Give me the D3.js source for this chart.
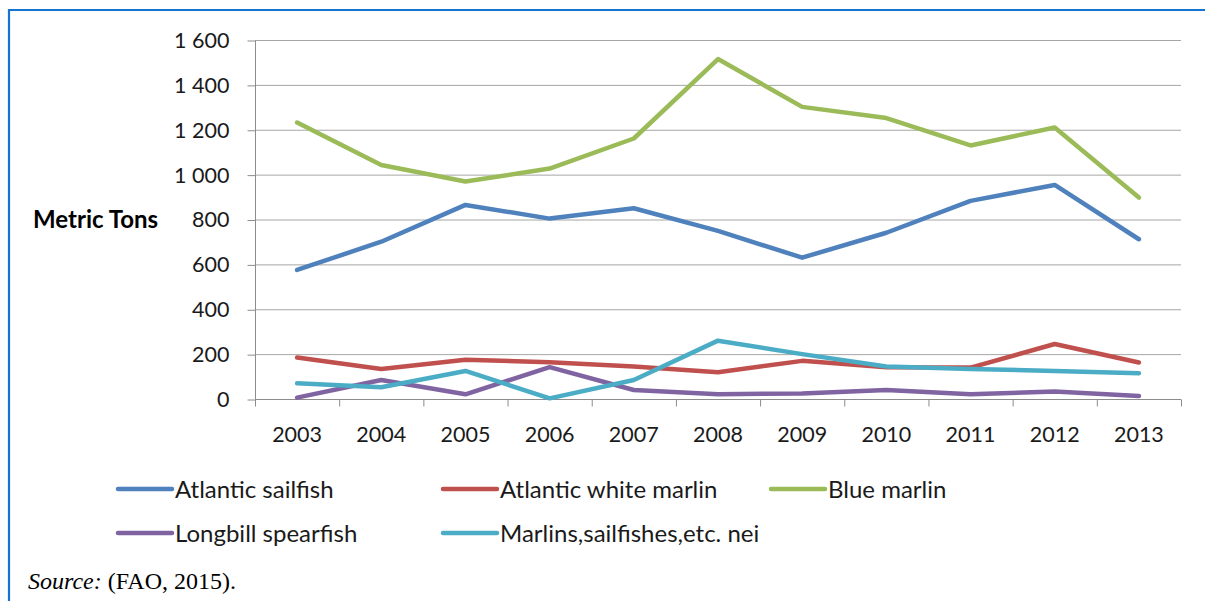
<!DOCTYPE html>
<html lang="en">
<head>
  <meta charset="utf-8">
  <title>Billfish catches 2003-2013</title>
  <script src="https://d3js.org/d3.v7.min.js"></script>
  <style>
    body { margin: 0; background: #fff; }
    .tick-label { font-family: Lato, "Open Sans", sans-serif; font-size: 21.5px; fill: #1a1a1a; }
    .legend-label { font-family: Lato, "Open Sans", sans-serif; font-size: 24px; fill: #1a1a1a; }
    .axis-title { font-family: Lato, "Open Sans", sans-serif; font-size: 24px; font-weight: bold; fill: #000; }
    .source { font-family: "Liberation Serif", "DejaVu Serif", serif; font-size: 24px; fill: #000; }
  </style>
</head>
<body>
<div id="chart"></div>
<script>
// data
var years = ["2003", "2004", "2005", "2006", "2007", "2008", "2009", "2010", "2011", "2012", "2013"];
var atlanticSailfish = [575, 701, 865, 804, 850, 749, 630, 741, 883, 954, 712];
var whiteMarlin      = [185, 134, 175, 164, 145, 119, 170, 142, 140, 245, 163];
var blueMarlin       = [1232, 1043, 969, 1027, 1161, 1515, 1302, 1252, 1130, 1210, 898];
var longbill         = [6, 85, 21, 142, 40, 21, 25, 40, 21, 33, 13];
var marlinsNei       = [70, 52, 125, 3, 85, 260, 200, 145, 134, 125, 115];
var yTicks = [0, 200, 400, 600, 800, 1000, 1200, 1400, 1600];

var series = [
  {name: "Atlantic sailfish", values: atlanticSailfish, color: "#4f81bd"},
  {name: "Atlantic white marlin", values: whiteMarlin, color: "#c0504d"},
  {name: "Blue marlin", values: blueMarlin, color: "#9bbb59"},
  {name: "Longbill spearfish", values: longbill, color: "#8064a2"},
  {name: "Marlins,sailfishes,etc. nei", values: marlinsNei, color: "#4bacc6"}
];

var width = 1205, height = 601;
var plot = {left: 255, right: 1181, top: 40, bottom: 399};

var svg = d3.select("#chart").append("svg")
  .attr("width", width)
  .attr("height", height);

// frame
svg.append("path")
  .attr("d", "M9,601 V10 H1205")
  .attr("fill", "none")
  .attr("stroke", "#1574d0")
  .attr("stroke-width", 2.2);

var x = d3.scaleBand().domain(years).range([plot.left, plot.right]).padding(0);
var y = d3.scaleLinear().domain([0, 1600]).range([plot.bottom, plot.top]);

// gridlines
svg.append("g").selectAll("line")
  .data(yTicks.filter(function(d) { return d > 0; }))
  .enter().append("line")
    .attr("x1", plot.left).attr("x2", plot.right)
    .attr("y1", function(d) { return y(d) + 0.5; })
    .attr("y2", function(d) { return y(d) + 0.5; })
    .attr("stroke", "#a6a6a6")
    .attr("stroke-width", 1);

// y axis
var yAxis = svg.append("g")
  .attr("transform", "translate(" + (plot.left + 0.5) + ",0.5)")
  .call(d3.axisLeft(y).tickValues(yTicks).tickSize(8).tickPadding(18)
    .tickFormat(function(d) { return d3.format(",")(d).replace(",", " "); }));
yAxis.select(".domain").attr("stroke", "#8c8c8c").attr("d", "M0," + plot.top + "V" + plot.bottom);
yAxis.selectAll(".tick line").attr("stroke", "#8c8c8c");
yAxis.selectAll(".tick text").attr("class", "tick-label").attr("fill", null).attr("font-size", null).attr("font-family", null);

// x axis with ticks on band boundaries
var xAxis = svg.append("g")
  .attr("transform", "translate(0," + (plot.bottom + 0.5) + ")");
xAxis.append("line")
  .attr("x1", plot.left).attr("x2", plot.right)
  .attr("stroke", "#8c8c8c");
xAxis.selectAll("line.tk")
  .data(years.concat(["end"]))
  .enter().append("line")
    .attr("class", "tk")
    .attr("x1", function(d) { return (d === "end" ? plot.right : x(d)) + 0.5; })
    .attr("x2", function(d) { return (d === "end" ? plot.right : x(d)) + 0.5; })
    .attr("y1", 0).attr("y2", 7)
    .attr("stroke", "#8c8c8c");
xAxis.selectAll("text")
  .data(years)
  .enter().append("text")
    .attr("class", "tick-label")
    .attr("text-anchor", "middle")
    .attr("x", function(d) { return x(d) + x.bandwidth() / 2; })
    .attr("y", 42)
    .text(function(d) { return d; });

// axis title
svg.append("text")
  .attr("class", "axis-title")
  .attr("x", 33)
  .attr("y", 228)
  .text("Metric Tons");

// lines
var line = d3.line()
  .x(function(d, i) { return x(years[i]) + x.bandwidth() / 2; })
  .y(function(d) { return y(d); });

svg.append("g").selectAll("path")
  .data(series)
  .enter().append("path")
    .attr("d", function(d) { return line(d.values); })
    .attr("fill", "none")
    .attr("stroke", function(d) { return d.color; })
    .attr("stroke-width", 4.5)
    .attr("stroke-linejoin", "round")
    .attr("stroke-linecap", "round");

// legend, three per row
var legendCols = [118, 443, 771];
var legend = svg.append("g").selectAll("g")
  .data(series)
  .enter().append("g")
    .attr("transform", function(d, i) {
      return "translate(" + legendCols[i % 3] + "," + (489 + Math.floor(i / 3) * 44) + ")";
    });
legend.append("line")
  .attr("x1", 0).attr("x2", 54)
  .attr("stroke", function(d) { return d.color; })
  .attr("stroke-width", 4.5)
  .attr("stroke-linecap", "round");
legend.append("text")
  .attr("class", "legend-label")
  .attr("x", 57)
  .attr("y", 8.5)
  .text(function(d) { return d.name; });

// source note
var src = svg.append("text")
  .attr("class", "source")
  .attr("x", 28)
  .attr("y", 589);
src.append("tspan").attr("font-style", "italic").text("Source:");
src.append("tspan").text(" (FAO, 2015).");
</script>
</body>
</html>
